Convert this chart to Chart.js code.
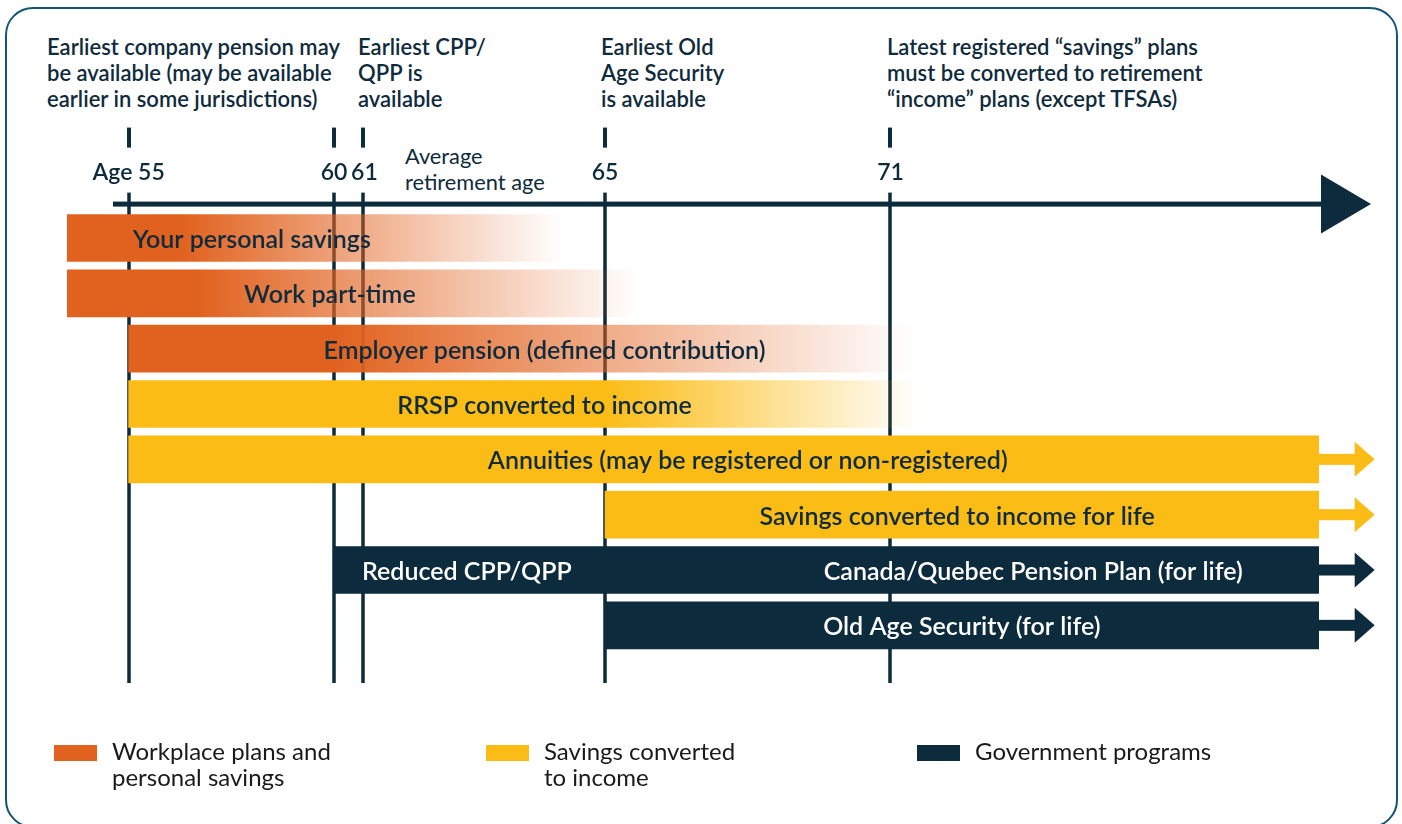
<!DOCTYPE html>
<html>
<head>
<meta charset="utf-8">
<script src="https://cdn.jsdelivr.net/npm/chart.js@4.4.1/dist/chart.umd.min.js"></script>
<style>
  body { margin: 0; background: #fff; }
  #wrap { position: relative; width: 1402px; height: 824px; overflow: hidden; font-family: Lato, "Open Sans", sans-serif; color: #0f2b3c; }
  #frame { position: absolute; left: 5px; top: 7px; width: 1389px; height: 817px; border: 2.5px solid #155574; border-radius: 28px; }
  canvas { position: absolute; left: 0; top: 0; }
  .note { position: absolute; top: 34px; font-weight: 600; font-size: 22px; line-height: 26px; white-space: nowrap; }
  .avg { position: absolute; left: 405px; top: 143px; font-size: 21.8px; line-height: 26px; white-space: nowrap; }
  .leg { position: absolute; top: 738px; font-size: 24px; line-height: 26px; color: #1a1a1a; }
  .leg i { position: absolute; left: -58px; top: 7px; width: 43px; height: 16px; }
</style>
</head>
<body>
<div id="wrap">
  <div id="frame"></div>
  <div class="note" style="left:47px">Earliest company pension may<br>be available (may be available<br>earlier in some jurisdictions)</div>
  <div class="note" style="left:358px">Earliest CPP/<br>QPP is<br>available</div>
  <div class="note" style="left:601px">Earliest Old<br>Age Security<br>is available</div>
  <div class="note" style="left:887px">Latest registered “savings” plans<br>must be converted to retirement<br>“income” plans (except TFSAs)</div>
  <div class="avg">Average<br>retirement age</div>
  <canvas id="chart" width="1402" height="824"></canvas>
  <div class="leg" style="left:112px"><i style="background:#e1621f"></i>Workplace plans and<br>personal savings</div>
  <div class="leg" style="left:544px"><i style="background:#fbbc15"></i>Savings converted<br>to income</div>
  <div class="leg" style="left:975px"><i style="background:#0c2b3c"></i>Government programs</div>
</div>
<script>
// Income sources by age (top to bottom)
const rows = [
  'Your personal savings',
  'Work part-time',
  'Employer pension (defined contribution)',
  'RRSP converted to income',
  'Annuities (may be registered or non-registered)',
  'Savings converted to income for life',
  'Canada/Quebec Pension Plan (for life)',
  'Old Age Security (for life)'
];
const startAge = [53.5, 53.5, 55, 55, 55, 65, 60, 65];
const endAge = [64.3, 65.7, 71.5, 71.6, 80, 80, 80, 80];
const fadeFromAge = [56.3, 56.7, 60, 65, null, null, null, null]; // bar fades out from here
const group = ['work', 'work', 'work', 'savings', 'savings', 'savings', 'gov', 'gov'];
const ongoing = [false, false, false, false, true, true, true, true]; // arrow = for life
const labelAge = [58, 59.9, 64, 64, 68, 72.4, 74, 72.5]; // where the bar text is centred
const extraLabel = { row: 6, text: 'Reduced CPP/QPP', age: 61 };
const tickAges = [55, 60, 61, 65, 71];
const tickLabels = ['Age 55', '60', '\u200961', '65', '71'];

const colors = { work: '#e1621f', savings: '#fbbc15', gov: '#0c2b3c' };
const textColors = { work: '#0f2b3c', savings: '#0f2b3c', gov: '#ffffff' };
const navy = '#0c2b3c';
const font = 'Lato, "Open Sans", sans-serif';

// the ages on the drawing are not evenly spaced: [age, position units]
const ageKnots = [[53.5, 0], [60, 267], [61, 296], [65, 538], [81.1, 1304]];

class AgeScale extends Chart.LinearScale {
  toUnit(v) {
    const k = ageKnots;
    let i = 1;
    while (i < k.length - 1 && v > k[i][0]) i++;
    const [a0, u0] = k[i - 1], [a1, u1] = k[i];
    return u0 + (v - a0) * (u1 - u0) / (a1 - a0);
  }
  getPixelForValue(v) {
    const k = ageKnots;
    const total = k[k.length - 1][1] - k[0][1];
    return this.getPixelForDecimal((this.toUnit(v) - k[0][1]) / total);
  }
  getValueForPixel(p) {
    const k = ageKnots;
    const u = k[0][1] + this.getDecimalForPixel(p) * (k[k.length - 1][1] - k[0][1]);
    let i = 1;
    while (i < k.length - 1 && u > k[i][1]) i++;
    const [a0, u0] = k[i - 1], [a1, u1] = k[i];
    return a0 + (u - u0) * (a1 - a0) / (u1 - u0);
  }
}
AgeScale.id = 'age';
AgeScale.defaults = Chart.LinearScale.defaults;
Chart.register(AgeScale);

function fade(hex, a) {
  const n = parseInt(hex.slice(1), 16);
  return `rgba(${n >> 16}, ${(n >> 8) & 255}, ${n & 255}, ${a})`;
}

// axis line with arrow head, age lines behind the bars, little dashes above the labels
const axisDecor = {
  id: 'axisDecor',
  beforeDatasetsDraw(chart) {
    const { ctx, chartArea: a, scales: { x } } = chart;
    const y = a.top + 11.5;
    const tip = x.getPixelForValue(81.1);
    ctx.save();
    ctx.fillStyle = navy;
    tickAges.forEach(v => {
      const px = Math.round(x.getPixelForValue(v));
      ctx.fillRect(px - 2, a.top - 65, 4, 20);
      ctx.fillRect(px - 1.75, a.top, 3.5, a.bottom - a.top);
    });
    ctx.fillRect(a.left + 46, y - 2.5, tip - 50 - a.left - 46, 5);
    ctx.beginPath();
    ctx.moveTo(tip - 50, y - 29.5);
    ctx.lineTo(tip, y);
    ctx.lineTo(tip - 50, y + 29.5);
    ctx.closePath();
    ctx.fill();
    ctx.restore();
  }
};

// text in the bars and arrows on bars that go on for life
const barDecor = {
  id: 'barDecor',
  afterDatasetsDraw(chart) {
    const { ctx, scales: { x } } = chart;
    const meta = chart.getDatasetMeta(0);
    ctx.save();
    ctx.font = '600 25px ' + font;
    ctx.textBaseline = 'middle';
    meta.data.forEach((bar, i) => {
      const c = colors[group[i]];
      if (ongoing[i]) {
        const x0 = bar.x, y = bar.y;
        ctx.fillStyle = c;
        ctx.fillRect(x0, y - 5.5, 38, 11);
        ctx.beginPath();
        ctx.moveTo(x0 + 36, y - 17.5);
        ctx.lineTo(x0 + 56, y);
        ctx.lineTo(x0 + 36, y + 17.5);
        ctx.closePath();
        ctx.fill();
      }
      ctx.fillStyle = textColors[group[i]];
      ctx.textAlign = 'center';
      ctx.fillText(rows[i], x.getPixelForValue(labelAge[i]), bar.y + 2);
    });
    const b = meta.data[extraLabel.row];
    ctx.fillStyle = textColors[group[extraLabel.row]];
    ctx.textAlign = 'left';
    ctx.fillText(extraLabel.text, x.getPixelForValue(extraLabel.age) - 1, b.y + 2);
    ctx.restore();
  }
};

new Chart(document.getElementById('chart'), {
  type: 'bar',
  data: {
    datasets: [{
      data: rows.map((r, i) => ({ x: [startAge[i], endAge[i]], y: i })),
      barThickness: 47,
      borderWidth: 0,
      backgroundColor: (c) => {
        const i = c.dataIndex;
        const col = colors[group[i]];
        const x = c.chart.scales.x;
        if (fadeFromAge[i] == null || !x) return col;
        const x0 = x.getPixelForValue(fadeFromAge[i]);
        const x1 = x.getPixelForValue(endAge[i]);
        if (!isFinite(x0) || !isFinite(x1) || x1 <= x0) return col;
        const g = c.chart.ctx.createLinearGradient(x0, 0, x1, 0);
        g.addColorStop(0, col);
        g.addColorStop(1, fade(col, 0));
        return g;
      }
    }]
  },
  options: {
    indexAxis: 'y',
    responsive: false,
    animation: false,
    layout: { padding: { left: 67, right: 31, top: 152, bottom: 141 } },
    plugins: { legend: { display: false }, tooltip: { enabled: false } },
    scales: {
      x: {
        type: 'age',
        position: 'top',
        min: 53.5,
        max: 81.1,
        afterBuildTicks: (s) => { s.ticks = tickAges.map(v => ({ value: v })); },
        grid: { display: false, drawTicks: false },
        border: { display: false },
        ticks: {
          autoSkip: false,
          maxRotation: 0,
          padding: 6.5,
          color: navy,
          font: { family: font, size: 23, weight: '600' },
          callback: (v, i) => tickLabels[i]
        }
      },
      y: {
        type: 'linear',
        reverse: true,
        offset: false,
        min: -0.821,
        max: 8.042,
        display: false
      }
    }
  },
  plugins: [axisDecor, barDecor]
});
</script>
</body>
</html>
